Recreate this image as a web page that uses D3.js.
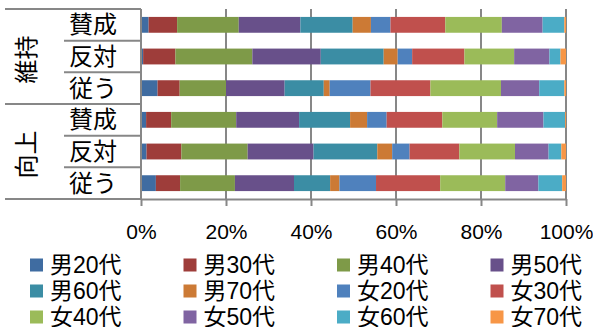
<!DOCTYPE html>
<html lang="ja">
<head>
<meta charset="UTF-8">
<title>chart</title>
<style>
  *{ margin:0; padding:0; }
  body{ background:#fff; }
  text{ font-family:"Liberation Sans","Noto Sans CJK JP",sans-serif; fill:#000; }
</style>
<script src="https://cdn.jsdelivr.net/npm/d3@7/dist/d3.min.js"></script>
</head>
<body>
<svg id="mainsvg"></svg>
<script>
  // 行（上から）
  const groups = ['維持', '向上']
  const answers = ['賛成', '反対', '従う']
  const series = ['男20代','男30代','男40代','男50代','男60代','男70代',
                  '女20代','女30代','女40代','女50代','女60代','女70代']
  const colors = ['#3F6CA1','#9E3D3A','#7E9A48','#68508A','#3B8DA4','#CC7A35',
                  '#4F81BD','#C0504D','#9BBB59','#8064A2','#4BACC6','#F79646']
  // 各行の値（%）
  const iji_sansei  = [1.8, 6.7, 14.5, 14.5, 12.3, 4.3, 4.6, 12.9, 13.3, 9.6, 5.1, 0.4]
  const iji_hantai  = [0.5, 7.6, 18.1, 16.1, 14.8, 3.3, 3.4, 12.3, 11.7, 8.3, 2.6, 1.3]
  const iji_shitagau = [3.9, 5.2, 10.9, 13.8, 9.2, 1.4, 9.6, 14.1, 16.6, 9.0, 5.9, 0.4]
  const kojo_sansei  = [1.2, 5.9, 15.3, 14.8, 12.0, 4.0, 4.6, 13.1, 12.9, 10.9, 5.1, 0.2]
  const kojo_hantai  = [1.3, 8.2, 15.6, 15.5, 15.0, 3.5, 4.1, 11.7, 13.1, 7.9, 3.0, 1.1]
  const kojo_shitagau = [3.5, 5.7, 12.9, 13.9, 8.5, 2.2, 8.6, 15.1, 15.3, 7.8, 5.6, 0.9]
  const xTicks = [0, 0.2, 0.4, 0.6, 0.8, 1]

  const rowValues = [iji_sansei, iji_hantai, iji_shitagau, kojo_sansei, kojo_hantai, kojo_shitagau]
  const rows = []
  groups.forEach((g, gi) => answers.forEach((a, ai) => {
    const vals = rowValues[gi * answers.length + ai]
    const total = d3.sum(vals)
    const row = { key: g + a, group: g, answer: a }
    series.forEach((s, si) => row[s] = vals[si] / total)
    rows.push(row)
  }))

  const width = 593, height = 327
  const svg = d3.select('#mainsvg').attr('width', width).attr('height', height)
  const margin = { left: 141, top: 9, right: 27, bottom: 128 }

  const x = d3.scaleLinear().domain([0, 1]).range([margin.left, width - margin.right])
  const y = d3.scaleBand().domain(rows.map(d => d.key))
    .range([margin.top, height - margin.bottom]).paddingInner(0.5).paddingOuter(0.25)
  const yRow = d3.scaleBand().domain(rows.map(d => d.key))
    .range([margin.top, height - margin.bottom])

  const axisColor = '#878787'

  // グリッド線
  svg.append('g').selectAll('line').data(xTicks.slice(1)).join('line')
    .attr('x1', d => x(d)).attr('x2', d => x(d))
    .attr('y1', margin.top).attr('y2', height - margin.bottom)
    .attr('stroke', axisColor).attr('stroke-width', 2)

  // 積み上げ
  const stacked = d3.stack().keys(series)(rows)
  svg.append('g').selectAll('g').data(stacked).join('g')
    .attr('fill', (d, i) => colors[i])
    .selectAll('rect').data(d => d).join('rect')
    .attr('x', d => x(d[0]))
    .attr('width', d => x(d[1]) - x(d[0]))
    .attr('y', d => y(d.data.key))
    .attr('height', y.bandwidth())

  // x軸
  const xAxis = svg.append('g')
    .attr('transform', `translate(0,${height - margin.bottom})`)
    .call(d3.axisBottom(x).tickValues(xTicks).tickFormat(d3.format('.0%')).tickSize(7).tickSizeOuter(0))
  xAxis.select('.domain').attr('stroke', axisColor).attr('stroke-width', 2)
  xAxis.selectAll('.tick line').attr('stroke', axisColor).attr('stroke-width', 2)
  xAxis.selectAll('.tick text').attr('y', 25).attr('dy', '0.71em')
    .style('font-size', '21px').attr('fill', '#000')

  // y軸（多段ラベル）
  const yAxis = svg.append('g')
  yAxis.append('line')
    .attr('x1', margin.left).attr('x2', margin.left)
    .attr('y1', margin.top).attr('y2', height - margin.bottom + 1)
    .attr('stroke', axisColor).attr('stroke-width', 2)

  const bounds = rows.map(d => yRow(d.key)).concat([height - margin.bottom])
  yAxis.selectAll('line.sep').data(bounds).join('line').attr('class', 'sep')
    .attr('x1', (d, i) => i % answers.length === 0 ? 5 : 64)
    .attr('x2', margin.left)
    .attr('y1', d => d).attr('y2', d => d)
    .attr('stroke', axisColor).attr('stroke-width', 2)

  yAxis.selectAll('text.ans').data(rows).join('text').attr('class', 'ans')
    .attr('x', 93).attr('y', d => yRow(d.key) + yRow.bandwidth() / 2)
    .attr('text-anchor', 'middle').attr('dy', '0.36em')
    .style('font-size', '24px').text(d => d.answer)

  yAxis.selectAll('text.grp').data(groups).join('text').attr('class', 'grp')
    .attr('transform', (g, gi) => {
      const cy = (bounds[gi * answers.length] + bounds[(gi + 1) * answers.length]) / 2
      return `translate(26,${cy + 3}) rotate(-90)`
    })
    .attr('text-anchor', 'middle').attr('dy', '0.36em')
    .style('font-size', '24px').text(d => d)

  // 凡例
  const legend = svg.append('g')
  const li = legend.selectAll('g').data(series).join('g')
    .attr('transform', (d, i) => `translate(${30 + (i % 4) * 153.5},${265 + Math.floor(i / 4) * 26})`)
  li.append('rect').attr('x', 0).attr('y', -6.5).attr('width', 13).attr('height', 13)
    .attr('fill', (d, i) => colors[i])
  li.append('text').attr('x', 20).attr('dy', '0.36em')
    .style('font-size', '23px').text(d => d)
</script>
</body>
</html>
